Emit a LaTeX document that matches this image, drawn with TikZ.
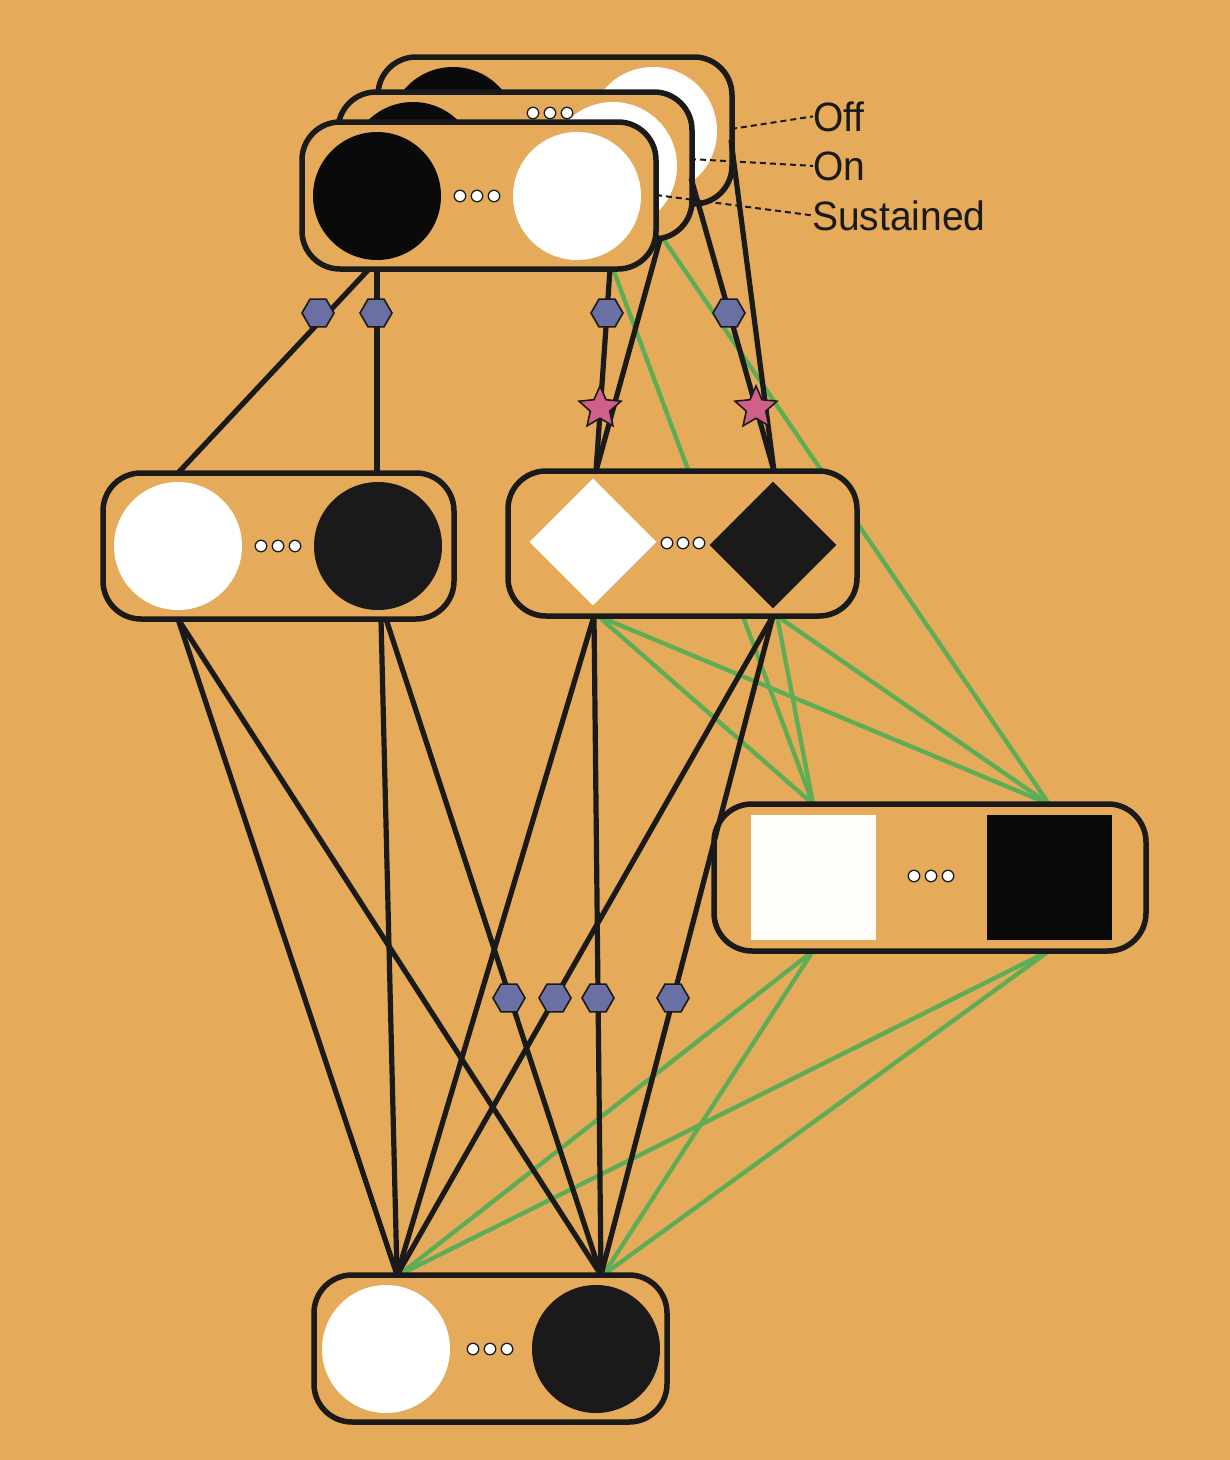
\documentclass[tikz,border=0pt]{standalone}
\usepackage{graphicx}
\usepackage{fontspec}
\setmainfont{Liberation Sans}
\usetikzlibrary{shapes.geometric}
\definecolor{bg}{HTML}{E5AA5A}
\definecolor{ink}{HTML}{1A1A1A}
\definecolor{deep}{HTML}{0A0A0A}
\definecolor{paper}{HTML}{FFFDFA}
\definecolor{grn}{HTML}{5DAD56}
\definecolor{hexc}{HTML}{6A70A4}
\definecolor{starc}{HTML}{D0608A}
\tikzset{
  box/.style={draw=ink, line width=5.5pt, fill=bg, rounded corners=38pt, inner sep=0, minimum width=354pt, minimum height=147pt},
  disc/.style={circle, inner sep=0, minimum size=128pt},
  wdisc/.style={disc, fill=white},
  bdisc/.style={disc, fill=ink},
  ddisc/.style={disc, fill=deep},
  dot/.style={circle, draw=ink, line width=1.3pt, fill=white, inner sep=0, minimum size=11.5pt},
  wire/.style={draw=ink, line width=5.2pt},
  gwire/.style={draw=grn, line width=4.3pt},
  leader/.style={draw=ink, line width=2pt, dash pattern=on 6pt off 4pt},
  hexmark/.style={regular polygon, regular polygon sides=6, minimum size=32pt, inner sep=0, fill=hexc, draw=ink, line width=1.6pt},
  starmark/.style={star, star points=5, star point ratio=2.15, minimum size=44pt, inner sep=0, fill=starc, draw=ink, line width=1.6pt},
  lbl/.style={anchor=base west, inner sep=0, text=ink, font=\fontsize{41}{41}\selectfont}
}
\begin{document}
\begin{tikzpicture}[x=1pt,y=-1pt]
\fill[bg] (0,0) rectangle (1230,1460);
\useasboundingbox (0,0) rectangle (1230,1460);

% connection points
\coordinate (F3g) at (613,269);
\coordinate (M1g) at (662,237);
\coordinate (S1t) at (813,804);
\coordinate (S2t) at (1049,804);
\coordinate (D1g) at (598,616);
\coordinate (D2g) at (777,616);
\coordinate (S1b) at (813,951);
\coordinate (S2b) at (1049,951);
\coordinate (B1g) at (399,1275);
\coordinate (B2g) at (603,1275);

% green connectors (behind boxes)
\draw[gwire] (F3g) -- (S1t);
\draw[gwire] (M1g) -- (S2t);
\draw[gwire] (D1g) -- (S1t);
\draw[gwire] (D1g) -- (S2t);
\draw[gwire] (D2g) -- (S1t);
\draw[gwire] (D2g) -- (S2t);
\draw[gwire] (S1b) -- (B1g);
\draw[gwire] (S1b) -- (B2g);
\draw[gwire] (S2b) -- (B1g);
\draw[gwire] (S2b) -- (B2g);

% top stack: back (Off)
\node[box] (offbox) at (555,130.5) {};
\node[ddisc] (offb) at (453,131) {};
\node[wdisc] (offw) at (653,131) {};
% middle (On)
\node[box] (onbox) at (515,165.5) {};
\node[ddisc] (onb) at (413,166) {};
\node[wdisc] (onw) at (613,166) {};
\node[dot] (ond1) at (533,113) {};
\node[dot] (ond2) at (550,113) {};
\node[dot] (ond3) at (567,113) {};
% front (Sustained)
\node[box] (susbox) at (479,195.5) {};
\node[ddisc] (susb) at (377,196) {};
\node[wdisc] (susw) at (577,196) {};
\node[dot] (susd1) at (460,196) {};
\node[dot] (susd2) at (477,196) {};
\node[dot] (susd3) at (494,196) {};

% left middle box
\node[box, minimum width=351pt, minimum height=146pt] (lbox) at (278.5,546) {};
\node[wdisc] (lw) at (178,546) {};
\node[bdisc] (lb) at (378,546) {};
\node[dot] (ld1) at (261,546) {};
\node[dot] (ld2) at (278,546) {};
\node[dot] (ld3) at (295,546) {};

% diamond box
\node[box, minimum width=349pt, minimum height=145pt] (dbox) at (682.5,543.5) {};
\node[diamond, fill=white, inner sep=0, minimum width=127pt, minimum height=127pt] (dw) at (593,542) {};
\node[diamond, fill=ink, inner sep=0, minimum width=127pt, minimum height=127pt] (db) at (773,545) {};
\node[dot] (dd1) at (667,543) {};
\node[dot] (dd2) at (683,543) {};
\node[dot] (dd3) at (699,543) {};

% square box
\node[box, minimum width=432pt, minimum height=147pt] (sbox) at (930,877.5) {};
\node[fill=paper, inner sep=0, minimum size=125pt] (sw) at (813.5,877.5) {};
\node[fill=deep, inner sep=0, minimum size=125pt] (sb) at (1049.5,877.5) {};
\node[dot] (sd1) at (914,876) {};
\node[dot] (sd2) at (931,876) {};
\node[dot] (sd3) at (948,876) {};

% bottom box
\node[box, minimum width=353pt, minimum height=147pt] (bbox) at (490.5,1348.5) {};
\node[wdisc] (bw) at (386,1349) {};
\node[bdisc] (bb) at (596,1349) {};
\node[dot] (bd1) at (473,1349) {};
\node[dot] (bd2) at (490,1349) {};
\node[dot] (bd3) at (507,1349) {};

% black connector points
\coordinate (F1) at (369,269);
\coordinate (F2) at (377,269);
\coordinate (F3) at (610,269);
\coordinate (M1) at (661,236);
\coordinate (M2) at (691,178);
\coordinate (K1) at (731,140);
\coordinate (L1t) at (178,473);
\coordinate (L2t) at (377,473);
\coordinate (D1t) at (596,471);
\coordinate (D2t) at (774,471);
\coordinate (L1b) at (178,619);
\coordinate (L2b) at (381,619);
\coordinate (L3b) at (386,619);
\coordinate (D1b) at (594,616);
\coordinate (D2b) at (773,616);
\coordinate (B1t) at (397,1275);
\coordinate (B2t) at (601,1275);

% black connectors
\draw[wire] (F1) -- (L1t);
\draw[wire] (F2) -- (L2t);
\draw[wire] (F3) -- (D1t);
\draw[wire] (M1) -- (D1t);
\draw[wire] (M2) -- (D2t);
\draw[wire] (K1) -- (D2t);
\draw[wire] (L1b) -- (B1t);
\draw[wire] (L1b) -- (B2t);
\draw[wire] (L2b) -- (B1t);
\draw[wire] (L3b) -- (B2t);
\draw[wire] (D1b) -- (B1t);
\draw[wire] (D1b) -- (B2t);
\draw[wire] (D2b) -- (B1t);
\draw[wire] (D2b) -- (B2t);

% markers
\node[hexmark] (h1) at (318,313) {};
\node[hexmark] (h2) at (376,313) {};
\node[hexmark] (h3) at (607,313) {};
\node[hexmark] (h4) at (729,313) {};
\node[hexmark] (h5) at (509,998) {};
\node[hexmark] (h6) at (555,998) {};
\node[hexmark] (h7) at (598,998) {};
\node[hexmark] (h8) at (673,998) {};
\node[starmark] (st1) at (600,408) {};
\node[starmark] (st2) at (756,408) {};

% labels
\node[lbl] (off) at (813,131) {\scalebox{0.95}[1]{Off}};
\node[lbl] (on) at (813,180) {\scalebox{0.95}[1]{On}};
\node[lbl] (sus) at (812,230) {\scalebox{0.95}[1]{Sustained}};
\coordinate (offp) at (731,129);
\coordinate (onp) at (690,159);
\coordinate (susp) at (656,195);
\draw[leader] (offp) -- (off.west);
\draw[leader] (onp) -- (on.west);
\draw[leader] (susp) -- (sus.west);
\end{tikzpicture}
\end{document}
